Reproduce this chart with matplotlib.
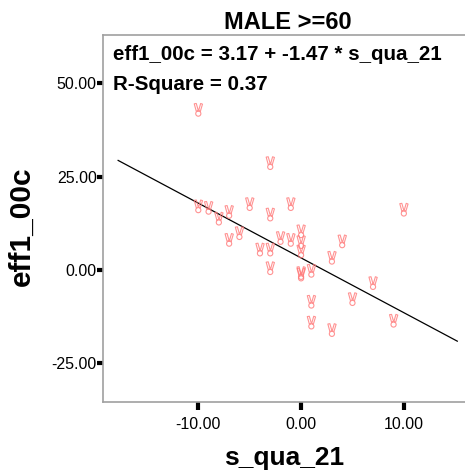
import matplotlib
matplotlib.use('Agg')
import matplotlib.pyplot as plt
from matplotlib.path import Path
import numpy as np

plt.rcParams['font.family'] = ['Liberation Sans', 'DejaVu Sans']

# Scatter data
s_qua_21 = [-10, -3, -10, -9, -8, -7, -5, -3, -1, 10,
            -7, -6, -4, -3, -2, -1, 0, 0, 0, -3,
            0, 0, 1, 4, 3, 7, 5, 1, 1, 3, 9]
eff1_00c = [42.8, 28.5, 16.9, 16.5, 13.6, 15.4, 17.5, 14.7, 17.5, 16.0,
            7.9, 9.7, 5.3, 5.3, 8.4, 7.9, 10.2, 7.3, 4.8, 0.3,
            -1.0, -1.4, -0.4, 7.5, 3.1, -3.7, -8.0, -8.7, -14.3, -16.3, -13.8]

# Fitted line as given in the chart
intercept = 3.17
slope = -1.47
r_square = 0.37
line_x = [-17.8, 15.2]

x_ticks = [-10, 0, 10]
y_ticks = [-25, 0, 25, 50]

# victory-hand like marker: two outlined fingers and a round palm
palm = Path.circle(center=(0.0, -0.5), radius=0.38)
finger_l = Path([(-0.3, -0.15), (-0.6, 0.95), (-0.3, 1.0), (0.0, -0.05), (-0.3, -0.15)],
                [Path.MOVETO, Path.LINETO, Path.LINETO, Path.LINETO, Path.CLOSEPOLY])
finger_r = Path([(0.05, -0.05), (0.35, 1.0), (0.62, 0.9), (0.3, -0.17), (0.05, -0.05)],
                [Path.MOVETO, Path.LINETO, Path.LINETO, Path.LINETO, Path.CLOSEPOLY])
hand = Path.make_compound_path(palm, finger_l, finger_r)

fig = plt.figure(figsize=(4.65, 4.74), dpi=100)
ax = fig.add_axes([0.2209, 0.1519, 0.7791, 0.7743])

ax.scatter(s_qua_21, eff1_00c, marker=hand, s=95, facecolors='none',
           edgecolors='#ff7878', linewidths=0.8, alpha=0.8, zorder=3)
lx = np.array(line_x)
ax.plot(lx, intercept + slope*lx, color='black', lw=0.9, zorder=2)

ax.set_xlim(-19.3, 15.95)
ax.set_ylim(-35.5, 63.0)
ax.set_xticks(x_ticks)
ax.set_yticks(y_ticks)
ax.set_xticklabels(['{:.2f}'.format(v) for v in x_ticks])
ax.set_yticklabels(['{:.2f}'.format(v) for v in y_ticks])
ax.tick_params(axis='x', direction='out', length=6, width=3, pad=5,
               labelsize=11.5, color='black')
ax.tick_params(axis='y', direction='out', length=4.3, width=3, pad=0,
               labelsize=11.5, color='black')
for side in ('left', 'bottom', 'top'):
    ax.spines[side].set_color('#a0a0a0')
    ax.spines[side].set_linewidth(1.2)
ax.spines['right'].set_visible(False)

ax.text(0.027, 0.932, 'eff1_00c = {:.2f} + {:.2f} * s_qua_21'.format(intercept, slope),
        transform=ax.transAxes, fontsize=14.8, fontweight='bold', va='baseline')
ax.text(0.027, 0.850, 'R-Square = {:.2f}'.format(r_square),
        transform=ax.transAxes, fontsize=14.8, fontweight='bold', va='baseline')

ax.set_title('MALE >=60', fontsize=17, fontweight='bold', pad=4, x=0.51)
ax.set_xlabel('s_qua_21', fontsize=19, fontweight='bold', labelpad=10)
ax.set_ylabel('eff1_00c', fontsize=21.5, fontweight='bold')
ax.yaxis.set_label_coords(-0.185, 0.478)

fig.savefig('out.png', dpi=100)
